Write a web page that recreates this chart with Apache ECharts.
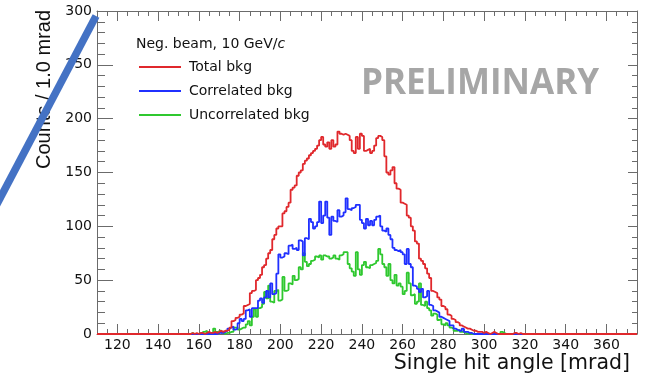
<!DOCTYPE html>
<html>
<head>
<meta charset="utf-8">
<script src="https://cdn.jsdelivr.net/npm/echarts@6/dist/echarts.min.js"></script>
<style>
html,body{margin:0;padding:0;background:#fff;}
#chart{width:648px;height:373px;}
</style>
</head>
<body>
<div id="chart"></div>
<script>
// Histogram: 1.0 mrad bins, first bin low edge = binLow
const binLow = 150;
const xRange = [110, 375];
const majorXTicks = [120, 140, 160, 180, 200, 220, 240, 260, 280, 300, 320, 340, 360];
const seriesNames = ['Total bkg', 'Correlated bkg', 'Uncorrelated bkg'];

// bins 150..319
const totalBkg = [
  0,0,0,0,0, 0,1,0,1,0, 1,1,0,1,2, 1,1,2,1,2,
  3,2,3,3,4, 6,12,13,15,16, 18,19,26,27,28, 38,40,41,50,52,
  55,62,64,70,75, 78,88,92,98,100, 100,112,114,118,122, 134,136,138,147,150,
  152,158,161,163,166, 168,170,172,175,180, 183,176,174,178,172, 180,174,176,188,186,
  185,186,185,184,180, 170,168,183,172,186, 184,170,171,172,168, 170,175,182,184,183,
  180,165,150,148,152, 155,140,135,134,122, 121,120,110,108,100, 96,86,84,70,68,
  65,61,56,52,40, 39,38,34,32,26, 25,23,18,17,14, 13,11,10,8,7,
  6,5,5,4,3, 3,2,2,2,1, 2,1,0,1,2, 1,0,0,0,0,
  0,0,0,0,1, 1,0,1,0,0
];
const correlatedBkg = [
  0,0,0,0,0, 0,0,0,0,0, 0,0,0,0,0, 0,0,0,0,1,
  1,1,2,3,5, 6,7,4,5,10, 14,12,14,22,23, 16,24,24,24,31,
  33,29,34,40,34, 47,37,38,56,74, 71,72,75,74,82, 83,79,80,78,87,
  86,73,89,88,107, 104,98,100,104,123, 103,110,123,108,92, 109,105,104,115,109,
  110,113,126,116,115, 117,118,120,120,106, 103,98,107,101,105, 101,106,109,110,100,
  96,95,98,92,88, 80,78,77,78,76, 74,65,79,65,62, 45,44,42,39,42,
  34,35,40,27,26, 22,21,20,16,15, 14,13,12,8,8, 5,4,3,3,5,
  2,2,1,1,0, 0,0,0,0,0, 0,0,0,0,0, 0,0,0,0,0,
  0,0,0,0,0, 0,0,0,0,0
];
const uncorrelatedBkg = [
  0,0,0,0,0, 0,1,0,0,0, 1,0,2,3,1, 0,1,5,2,1,
  3,1,0,1,1, 2,2,6,6,4, 5,6,6,9,12, 8,16,23,16,24,
  25,28,39,33,45, 30,29,40,41,31, 32,53,40,41,47, 46,54,50,51,62,
  60,75,67,63,65, 68,69,72,71,73, 69,73,72,72,70, 71,73,70,69,73,
  74,76,76,65,61, 58,54,76,60,55, 64,67,62,61,64, 65,66,68,79,74,
  65,62,54,65,50, 47,55,45,47,44, 37,40,57,47,36, 37,28,30,47,27,
  26,30,24,22,17, 19,18,13,14,9, 8,10,8,6,5, 3,3,4,2,2,
  1,0,1,0,0, 0,0,0,0,0, 0,0,0,0,0, 0,0,0,2,1,
  0,0,0,0,0, 0,0,0,0,0
];

function histPoints(values) {
  const pts = [[xRange[0], 0]];
  values.forEach((v, i) => pts.push([binLow + i, v]));
  pts.push([binLow + values.length, 0]);
  pts.push([xRange[1], 0]);
  return pts;
}

const chart = echarts.init(document.getElementById('chart'), null, {renderer: 'canvas'});
const axisColor = '#6b6b6b';
const tickFont = {fontFamily: 'DejaVu Sans', fontSize: 14, color: '#111'};

function xAx(pos, major, labels) {
  const a = {
    type: 'value', min: xRange[0], max: xRange[1], position: pos, offset: 0,
    axisLine: {show: !major, onZero: false, lineStyle: {color: axisColor, width: 1}},
    axisTick: {show: true, inside: true, length: major ? 10 : 5, lineStyle: {color: axisColor, width: 1}},
    axisLabel: {show: false},
    splitLine: {show: false}
  };
  if (major) {
    a.axisTick.customValues = majorXTicks;
    if (labels) {
      a.axisLabel = Object.assign({show: true, customValues: majorXTicks, margin: 4}, tickFont);
    }
  } else {
    a.interval = 5;
  }
  return a;
}

const option = {
  animation: false,
  backgroundColor: '#fff',
  grid: {left: 97, right: 11, top: 11, bottom: 39, containLabel: false, outerBoundsMode: 'none'},
  xAxis: [xAx('bottom', false), xAx('bottom', true, true), xAx('top', false), xAx('top', true, false)],
  yAxis: [
    {type: 'value', min: 0, max: 300, interval: 50, position: 'left',
     axisLine: {show: true, lineStyle: {color: axisColor, width: 1}},
     axisTick: {inside: true, length: 16, lineStyle: {color: axisColor}},
     minorTick: {show: true, splitNumber: 5, length: 8, lineStyle: {color: axisColor}},
     axisLabel: Object.assign({margin: 5}, tickFont),
     splitLine: {show: false}},
    {type: 'value', min: 0, max: 300, interval: 50, position: 'right',
     axisLine: {show: true, lineStyle: {color: axisColor, width: 1}},
     axisTick: {inside: true, length: 9, lineStyle: {color: axisColor}},
     minorTick: {show: true, splitNumber: 5, length: 5, lineStyle: {color: axisColor}},
     axisLabel: {show: false},
     splitLine: {show: false}}
  ],
  legend: {
    data: seriesNames, orient: 'vertical', left: 139, top: 59, padding: 0,
    icon: 'rect', itemWidth: 42, itemHeight: 2, itemGap: 8,
    textStyle: {fontFamily: 'DejaVu Sans', fontSize: 14, color: '#111', lineHeight: 16, padding: [0, 0, 0, 3]}
  },
  series: [
    {name: 'Uncorrelated bkg', type: 'line', step: 'end', symbol: 'none', xAxisIndex: 0, yAxisIndex: 0,
     color: '#2fc82f', lineStyle: {width: 1.8, color: '#2fc82f'}, data: histPoints(uncorrelatedBkg), z: 2},
    {name: 'Correlated bkg', type: 'line', step: 'end', symbol: 'none', xAxisIndex: 0, yAxisIndex: 0,
     color: '#2030ff', lineStyle: {width: 1.8, color: '#2030ff'}, data: histPoints(correlatedBkg), z: 3},
    {name: 'Total bkg', type: 'line', step: 'end', symbol: 'none', xAxisIndex: 0, yAxisIndex: 0,
     color: '#e0282c', lineStyle: {width: 1.8, color: '#e0282c'}, data: histPoints(totalBkg), z: 4}
  ],
  graphic: [
    {type: 'text', left: 136, top: 37, z: 10,
     style: {text: 'Neg. beam, 10 GeV/{i|c}', fontFamily: 'DejaVu Sans', fontSize: 14, fill: '#111',
             rich: {i: {fontStyle: 'italic', fontFamily: 'DejaVu Sans', fontSize: 14, fill: '#111'}}}},
    {type: 'text', x: 480, y: 84, z: 10,
     style: {text: 'PRELIMINARY', fontFamily: 'Open Sans', fontWeight: 'bold', fontSize: 35, fill: '#a6a6a6',
             align: 'center', verticalAlign: 'middle'}},
    {type: 'text', x: 630, y: 364, z: 10,
     style: {text: 'Single hit angle [mrad]', fontFamily: 'DejaVu Sans', fontSize: 20.5, fill: '#111',
             align: 'right', verticalAlign: 'middle'}},
    {type: 'text', x: 44, y: 10, rotation: Math.PI / 2, z: 10,
     style: {text: 'Counts / 1.0 mrad', fontFamily: 'Liberation Sans', fontSize: 20, fill: '#111',
             align: 'right', verticalAlign: 'middle'}},
    {type: 'line', z: 20,
     shape: {x1: 96, y1: 16, x2: -4, y2: 206},
     style: {stroke: '#4472c4', lineWidth: 7.5, lineCap: 'butt'}}
  ]
};
chart.setOption(option);
</script>
</body>
</html>
